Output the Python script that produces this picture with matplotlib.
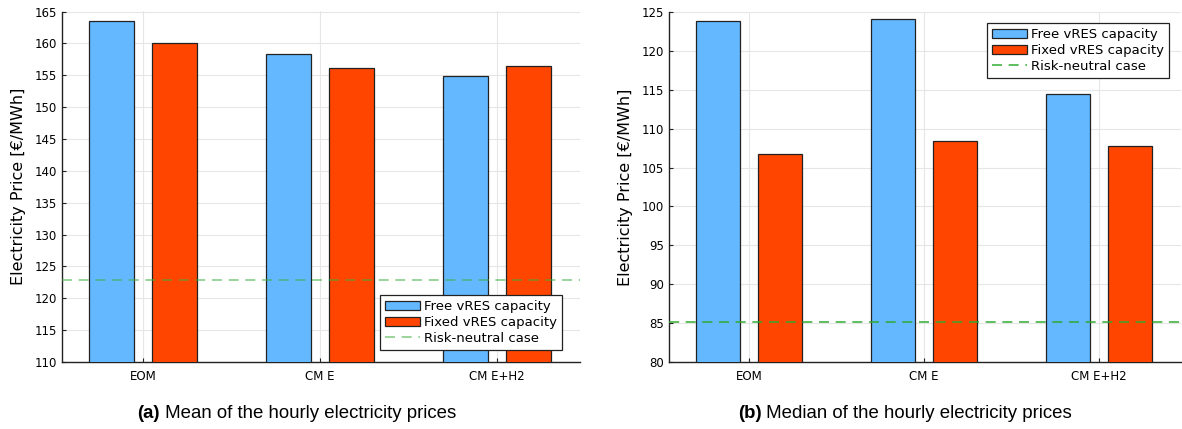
import matplotlib
matplotlib.use("Agg")
import matplotlib.pyplot as plt
import numpy as np

categories = ["EOM", "CM E", "CM E+H2"]
mean_free = [163.5, 158.4, 154.9]
mean_fixed = [160.0, 156.2, 156.5]
mean_neutral = 122.9
median_free = [123.9, 124.1, 114.5]
median_fixed = [106.7, 108.4, 107.8]
median_neutral = 85.1

series_labels = ["Free vRES capacity", "Fixed vRES capacity", "Risk-neutral case"]
captions = [("(a)", " Mean of the hourly electricity prices"),
            ("(b)", " Median of the hourly electricity prices")]

blue = "#63B8FF"
red = "#FF4500"

fig = plt.figure(figsize=(11.82, 4.29), dpi=100)
W, H = 1182, 429

def px_axes(x0, x1, y0, y1):
    return fig.add_axes([x0 / W, 1 - y1 / H, (x1 - x0) / W, (y1 - y0) / H])

ax1 = px_axes(62, 580, 11.5, 362)
ax2 = px_axes(669, 1181, 12, 362)

def draw(ax, free, fixed, neutral, ylim, yticks, legend_loc, anchor, green, galpha):
    x = np.arange(1, len(categories) + 1)
    w = 0.254
    off = 0.177
    b1 = ax.bar(x - off, free, width=w, color=blue, edgecolor="#222222", linewidth=0.9,
                label=series_labels[0], zorder=3)
    b2 = ax.bar(x + off, fixed, width=w, color=red, edgecolor="#222222", linewidth=0.9,
                label=series_labels[1], zorder=3)
    ln = ax.axhline(neutral, color=green, alpha=galpha, linestyle=(0, (6, 4)), linewidth=1.2,
                    label=series_labels[2], zorder=4)
    ax.set_ylim(*ylim)
    ax.set_xlim(0.542, 3.469)
    ax.set_yticks(yticks)
    ax.set_xticks(x)
    ax.set_xticklabels(categories)
    ax.tick_params(axis="both", direction="in", labelsize=8.5, length=3, color="#222222")
    ax.tick_params(axis="x", pad=6)
    ax.grid(True, color="#e6e6e6", linewidth=0.8, zorder=0)
    ax.set_axisbelow(True)
    for s in ["top", "right"]:
        ax.spines[s].set_visible(False)
    for s in ["left", "bottom"]:
        ax.spines[s].set_color("#222222")
        ax.spines[s].set_linewidth(1.0)
    ax.set_ylabel("Electricity Price [€/MWh]", fontsize=11.5, labelpad=6)
    leg = ax.legend([b1, b2, ln], series_labels, loc=legend_loc,
                    bbox_to_anchor=anchor, bbox_transform=fig.transFigure,
                    fontsize=9.5, frameon=True, fancybox=False, framealpha=1,
                    edgecolor="#222222", borderpad=0.4, labelspacing=0.2,
                    handlelength=2.6, handletextpad=0.3, borderaxespad=0)
    leg.get_frame().set_linewidth(0.9)

draw(ax1, mean_free, mean_fixed, mean_neutral, (110, 165), np.arange(110, 166, 5),
     "lower right", (562 / W, 1 - 350 / H), "#3DAF3D", 0.6)
draw(ax2, median_free, median_fixed, median_neutral, (80, 125), np.arange(80, 126, 5),
     "upper right", (1169 / W, 1 - 23 / H), "#2EAA2E", 0.9)

# Captions: bold tag followed by regular text, centred as a pair
fs = 13.4
for (tag, text), cx in zip(captions, [297, 905]):
    ta = fig.text(0, 1 - 413 / H, tag, fontsize=fs, family="Liberation Sans",
                  fontweight="bold", ha="left", va="center")
    tb = fig.text(0, 1 - 413 / H, text, fontsize=fs, family="Liberation Sans",
                  ha="left", va="center")
    fig.canvas.draw()
    wa = ta.get_window_extent().width
    wb = tb.get_window_extent().width
    x0 = cx - (wa + wb) / 2
    ta.set_x(x0 / W)
    tb.set_x((x0 + wa) / W)

fig.savefig("out.png", dpi=100)
